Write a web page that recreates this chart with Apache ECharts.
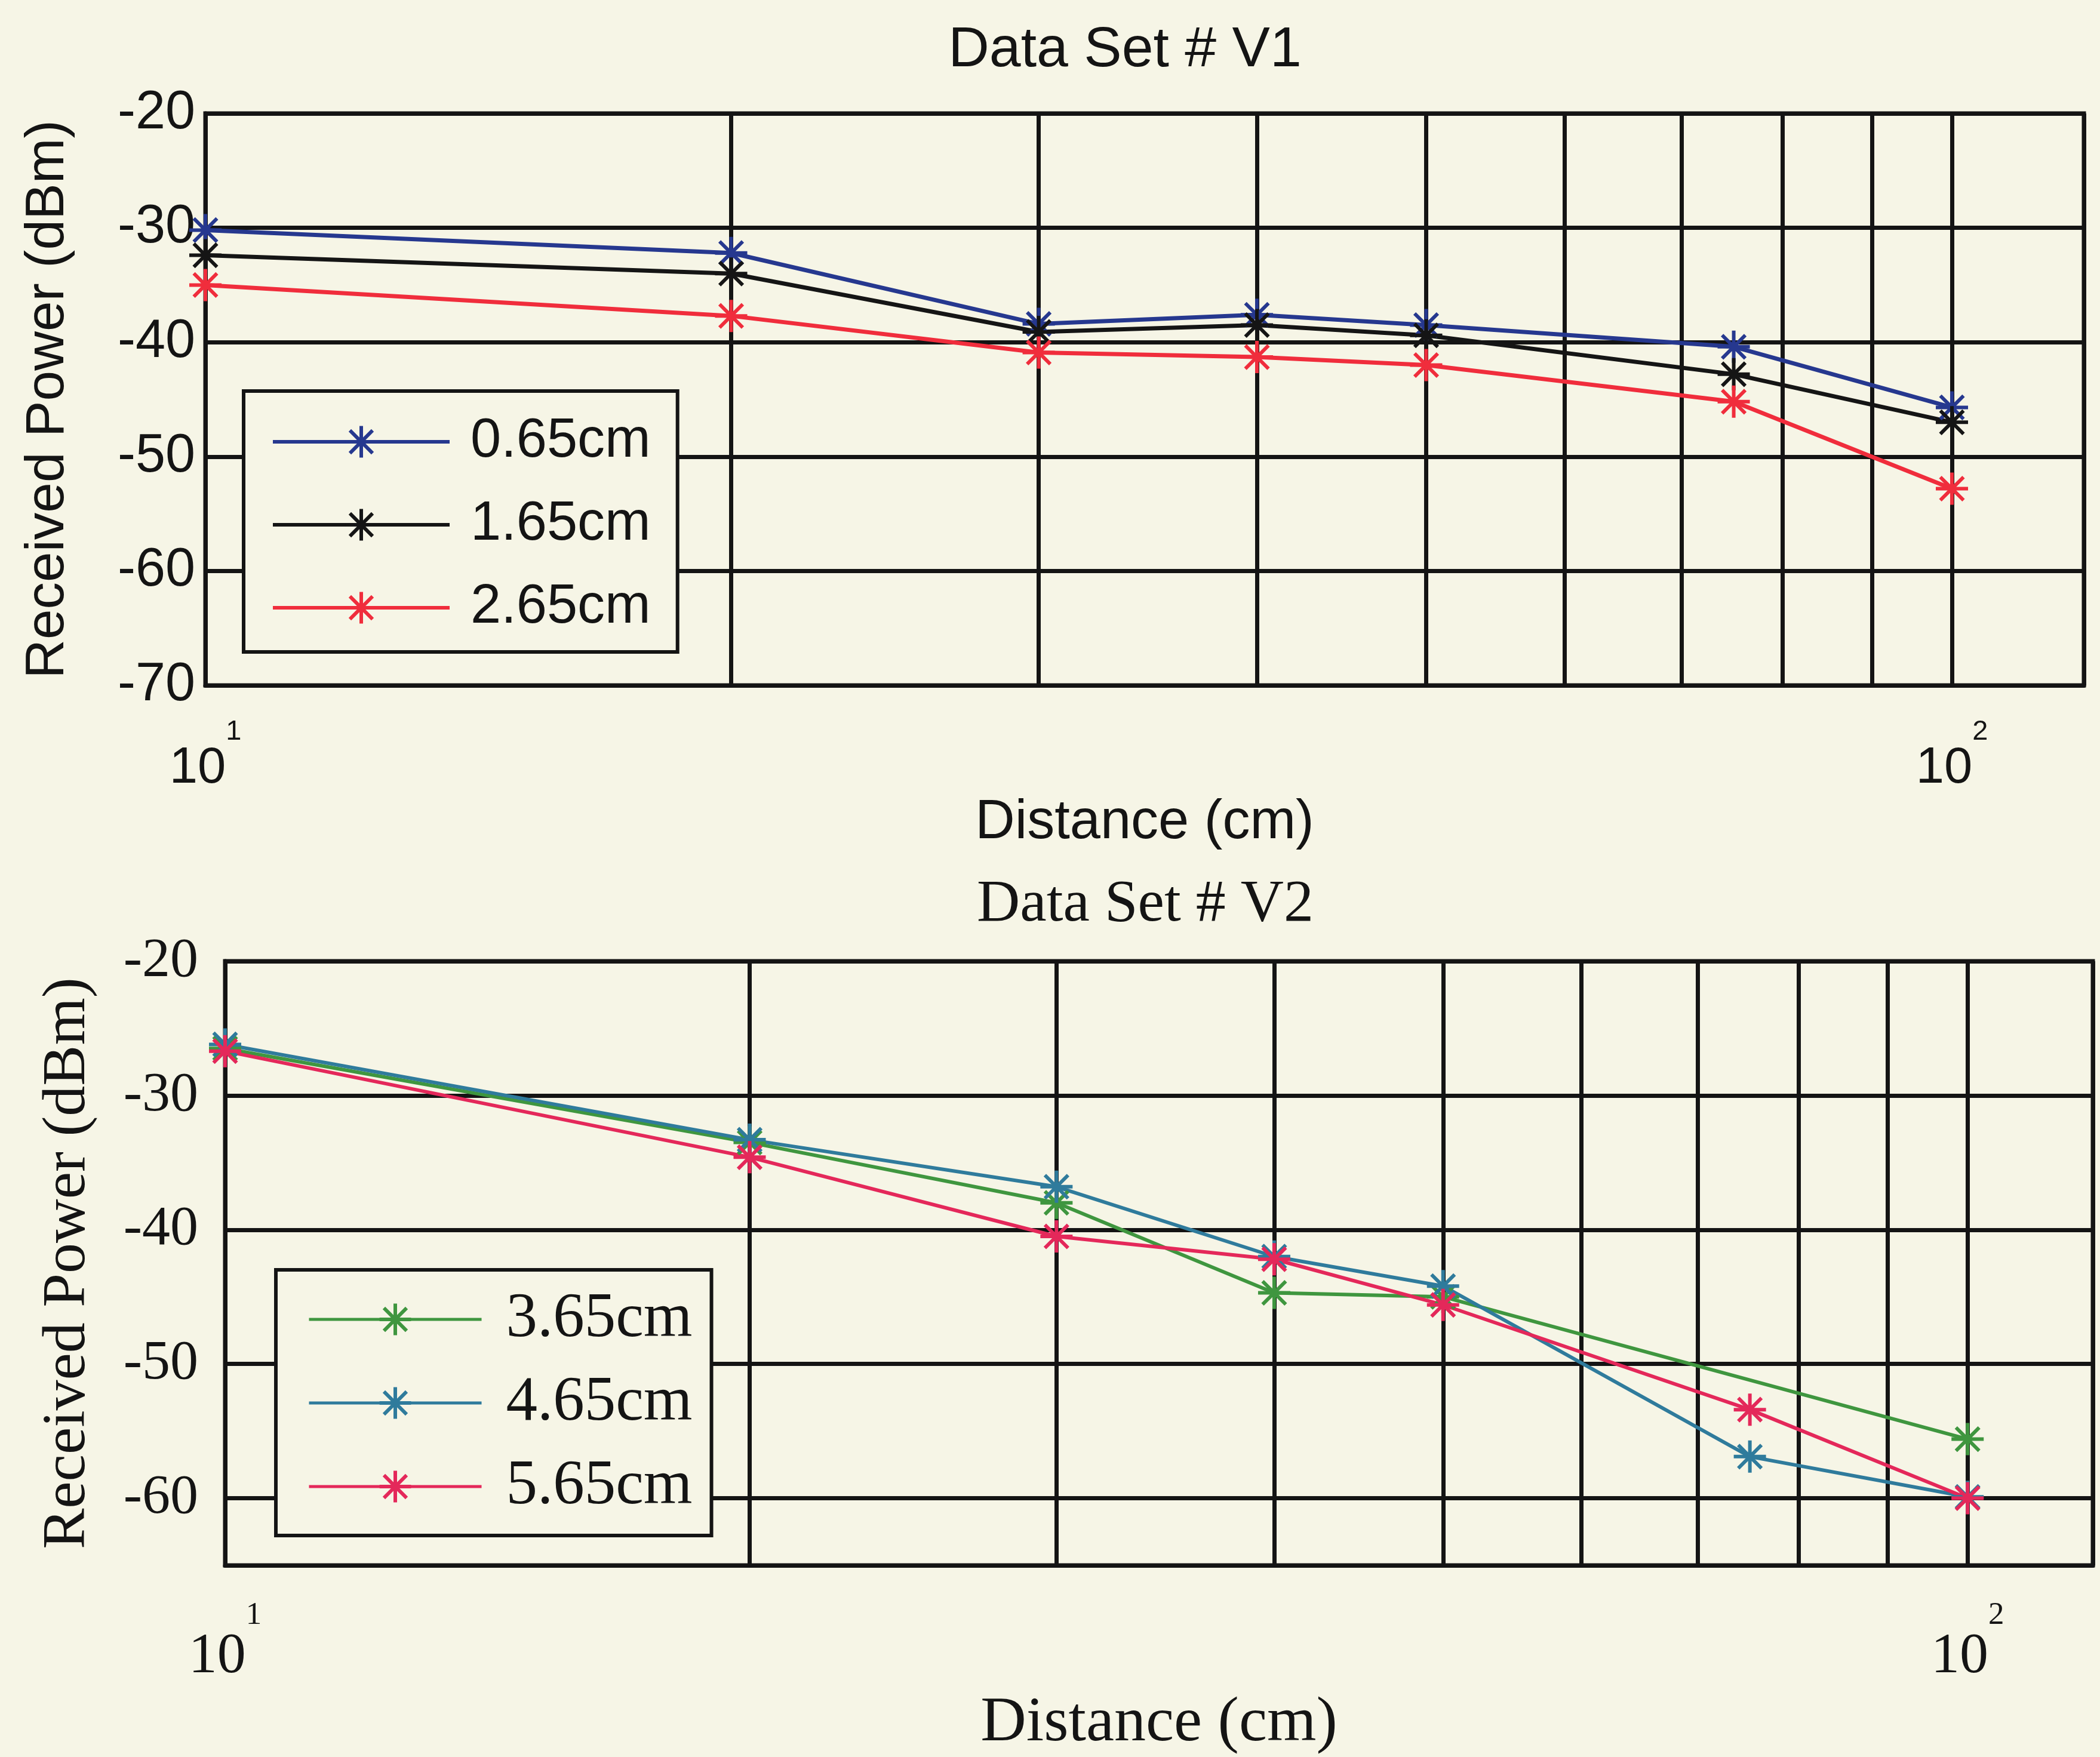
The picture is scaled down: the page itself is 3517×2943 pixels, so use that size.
<!DOCTYPE html>
<html>
<head>
<meta charset="utf-8">
<title>Received Power vs Distance</title>
<script src="https://cdn.jsdelivr.net/npm/echarts@6/dist/echarts.min.js"></script>
<style>
  html, body { margin: 0; padding: 0; background: #f6f5e6; }
  #chart { width: 3517px; height: 2943px; }
</style>
</head>
<body>
<div id="chart"></div>
<script>
// Measurement distances (cm), shared by both data sets
const distances = [10, 20, 30, 40, 50, 75, 100];

// Data Set # V1 — received power (dBm)
const v1Names = ['0.65cm', '1.65cm', '2.65cm'];
const v1_065 = [-30.2, -32.2, -38.4, -37.6, -38.5, -40.4, -45.7];
const v1_165 = [-32.4, -34.0, -39.1, -38.5, -39.4, -42.8, -47.0];
const v1_265 = [-35.0, -37.7, -40.9, -41.3, -42.0, -45.2, -52.8];

// Data Set # V2 — received power (dBm); 3.65cm has no reading at 75 cm
const v2Names = ['3.65cm', '4.65cm', '5.65cm'];
const v2_365 = [-26.5, -33.5, -38.0, -44.7, -45.0, null, -55.6];
const v2_465 = [-26.2, -33.3, -36.8, -42.0, -44.2, -56.9, -59.9];
const v2_565 = [-26.7, -34.6, -40.5, -42.2, -45.6, -53.4, -60.0];

// Log-axis decade labels (10^1, 10^2) and the minor grid positions
const xTickValues = [10, 100];
const xTickExponents = ['1', '2'];
const xMinorGrid = [20, 30, 40, 50, 60, 70, 80, 90];

const INK = '#141414';
const BG = '#f6f5e6';
const SANS = "'Liberation Sans', Arial, sans-serif";
const SERIF = "'Liberation Serif', 'Times New Roman', serif";
const ASTERISK = 'path://M0,-10L0,10M-10,0L10,0M-7.2,-7.2L7.2,7.2M-7.2,7.2L7.2,-7.2';

function pairs(values) {
  const out = [];
  values.forEach((v, i) => { if (v !== null) out.push([distances[i], v]); });
  return out;
}

function decadeLabel(v) {
  for (let i = 0; i < xTickValues.length; i++) {
    if (Math.abs(v - xTickValues[i]) < 1e-6 * xTickValues[i]) {
      return '{b|10}{s|' + xTickExponents[i] + '}';
    }
  }
  return '';
}

function dataSeries(name, values, color, gi, width) {
  return {
    name: name,
    type: 'line',
    xAxisIndex: gi,
    yAxisIndex: gi,
    data: pairs(values),
    color: color,
    symbol: ASTERISK,
    symbolSize: 54,
    showSymbol: true,
    z: 5,
    lineStyle: { color: color, width: width },
    itemStyle: { color: color, borderColor: color, borderWidth: 6 },
    animation: false
  };
}

function minorGridSeries(gi) {
  return {
    name: 'minor-grid-' + gi,
    type: 'line',
    xAxisIndex: gi,
    yAxisIndex: gi,
    data: [],
    z: 1,
    silent: true,
    animation: false,
    markLine: {
      silent: true,
      symbol: ['none', 'none'],
      label: { show: false },
      lineStyle: { color: INK, width: 7, type: 'solid' },
      data: xMinorGrid.map(d => ({ xAxis: d })),
      animation: false
    }
  };
}

function xAxisFor(gi, max, font, fontSize, nameFontSize, nameGap, labelMargin) {
  return {
    type: 'log',
    logBase: 10,
    gridIndex: gi,
    min: 10,
    max: max,
    axisLine: { show: true, lineStyle: { color: INK, width: 7 } },
    axisTick: { show: false },
    splitLine: { show: true, lineStyle: { color: INK, width: 7 } },
    axisLabel: {
      margin: labelMargin,
      formatter: decadeLabel,
      rich: {
        b: { fontFamily: font, fontSize: fontSize, color: INK, lineHeight: fontSize * 1.5, verticalAlign: 'bottom' },
        s: { fontFamily: font, fontSize: Math.round(fontSize * 0.55), color: INK, lineHeight: fontSize * 1.5, verticalAlign: 'top' }
      }
    },
    name: 'Distance (cm)',
    nameLocation: 'middle',
    nameGap: nameGap,
    nameTextStyle: { fontFamily: font, fontSize: nameFontSize, color: INK }
  };
}

function yAxisFor(gi, min, font, fontSize, nameFontSize, nameGap, labelMargin, extra) {
  return Object.assign({
    type: 'value',
    gridIndex: gi,
    min: min,
    max: -20,
    axisLine: { show: true, lineStyle: { color: INK, width: 7 } },
    axisTick: { show: false },
    splitLine: { show: true, lineStyle: { color: INK, width: 7 } },
    axisLabel: {
      margin: labelMargin,
      fontFamily: font,
      fontSize: fontSize,
      color: INK,
      formatter: v => (Math.round(v) % 10 === 0 ? String(Math.round(v)) : '')
    },
    name: 'Received Power (dBm)',
    nameLocation: 'middle',
    nameRotate: 90,
    nameGap: nameGap,
    nameTextStyle: { fontFamily: font, fontSize: nameFontSize, color: INK }
  }, extra);
}

const chart = echarts.init(document.getElementById('chart'), null, { renderer: 'canvas' });

const option = {
  backgroundColor: BG,
  animation: false,
  graphic: [
    { type: 'text', x: 1884, y: 85, style: { text: 'Data Set # V1', font: '95px ' + SANS, fill: INK, align: 'center', verticalAlign: 'middle' } },
    { type: 'text', x: 1918, y: 1516, style: { text: 'Data Set # V2', font: '100px ' + SERIF, fill: INK, align: 'center', verticalAlign: 'middle' } }
  ],
  grid: [
    { left: 344, right: 27, top: 190, bottom: 1795, show: true, borderColor: INK, borderWidth: 7, backgroundColor: 'transparent' },
    { left: 377, right: 12, top: 1610, bottom: 321, show: true, borderColor: INK, borderWidth: 7, backgroundColor: 'transparent' }
  ],
  xAxis: [
    xAxisFor(0, 119, SANS, 85, 92, 185, 55),
    xAxisFor(1, 118, SERIF, 96, 106, 212, 58)
  ],
  yAxis: [
    yAxisFor(0, -70, SANS, 90, 91, 218, 17, { interval: 10 }),
    yAxisFor(1, -65, SERIF, 94, 102, 212, 45, { splitNumber: 5 })
  ],
  legend: [
    {
      data: v1Names,
      orient: 'vertical',
      left: 408,
      top: 655,
      padding: [35, 45, 24, 46],
      itemWidth: 296,
      itemHeight: 66,
      itemGap: 39,
      borderColor: INK,
      borderWidth: 6,
      backgroundColor: BG,
      selectedMode: false,
      lineStyle: { width: 6 },
      itemStyle: { borderWidth: 6 },
      textStyle: { fontFamily: SANS, fontSize: 92, color: INK, lineHeight: 100, padding: [0, 0, 0, 30] }
    },
    {
      data: v2Names,
      orient: 'vertical',
      left: 462,
      top: 2127,
      padding: [27, 32, 26, 53],
      itemWidth: 289,
      itemHeight: 66,
      itemGap: 28,
      borderColor: INK,
      borderWidth: 6,
      backgroundColor: BG,
      selectedMode: false,
      lineStyle: { width: 5 },
      itemStyle: { borderWidth: 6 },
      textStyle: { fontFamily: SERIF, fontSize: 105, color: INK, lineHeight: 112, padding: [0, 0, 0, 36] }
    }
  ],
  series: [
    minorGridSeries(0),
    dataSeries('0.65cm', v1_065, '#26388f', 0, 7),
    dataSeries('1.65cm', v1_165, '#151515', 0, 7),
    dataSeries('2.65cm', v1_265, '#f02d3c', 0, 7),
    minorGridSeries(1),
    dataSeries('3.65cm', v2_365, '#3f963f', 1, 6),
    dataSeries('4.65cm', v2_465, '#2f7b9c', 1, 6),
    dataSeries('5.65cm', v2_565, '#e4285a', 1, 6)
  ]
};

chart.setOption(option);
</script>
</body>
</html>
